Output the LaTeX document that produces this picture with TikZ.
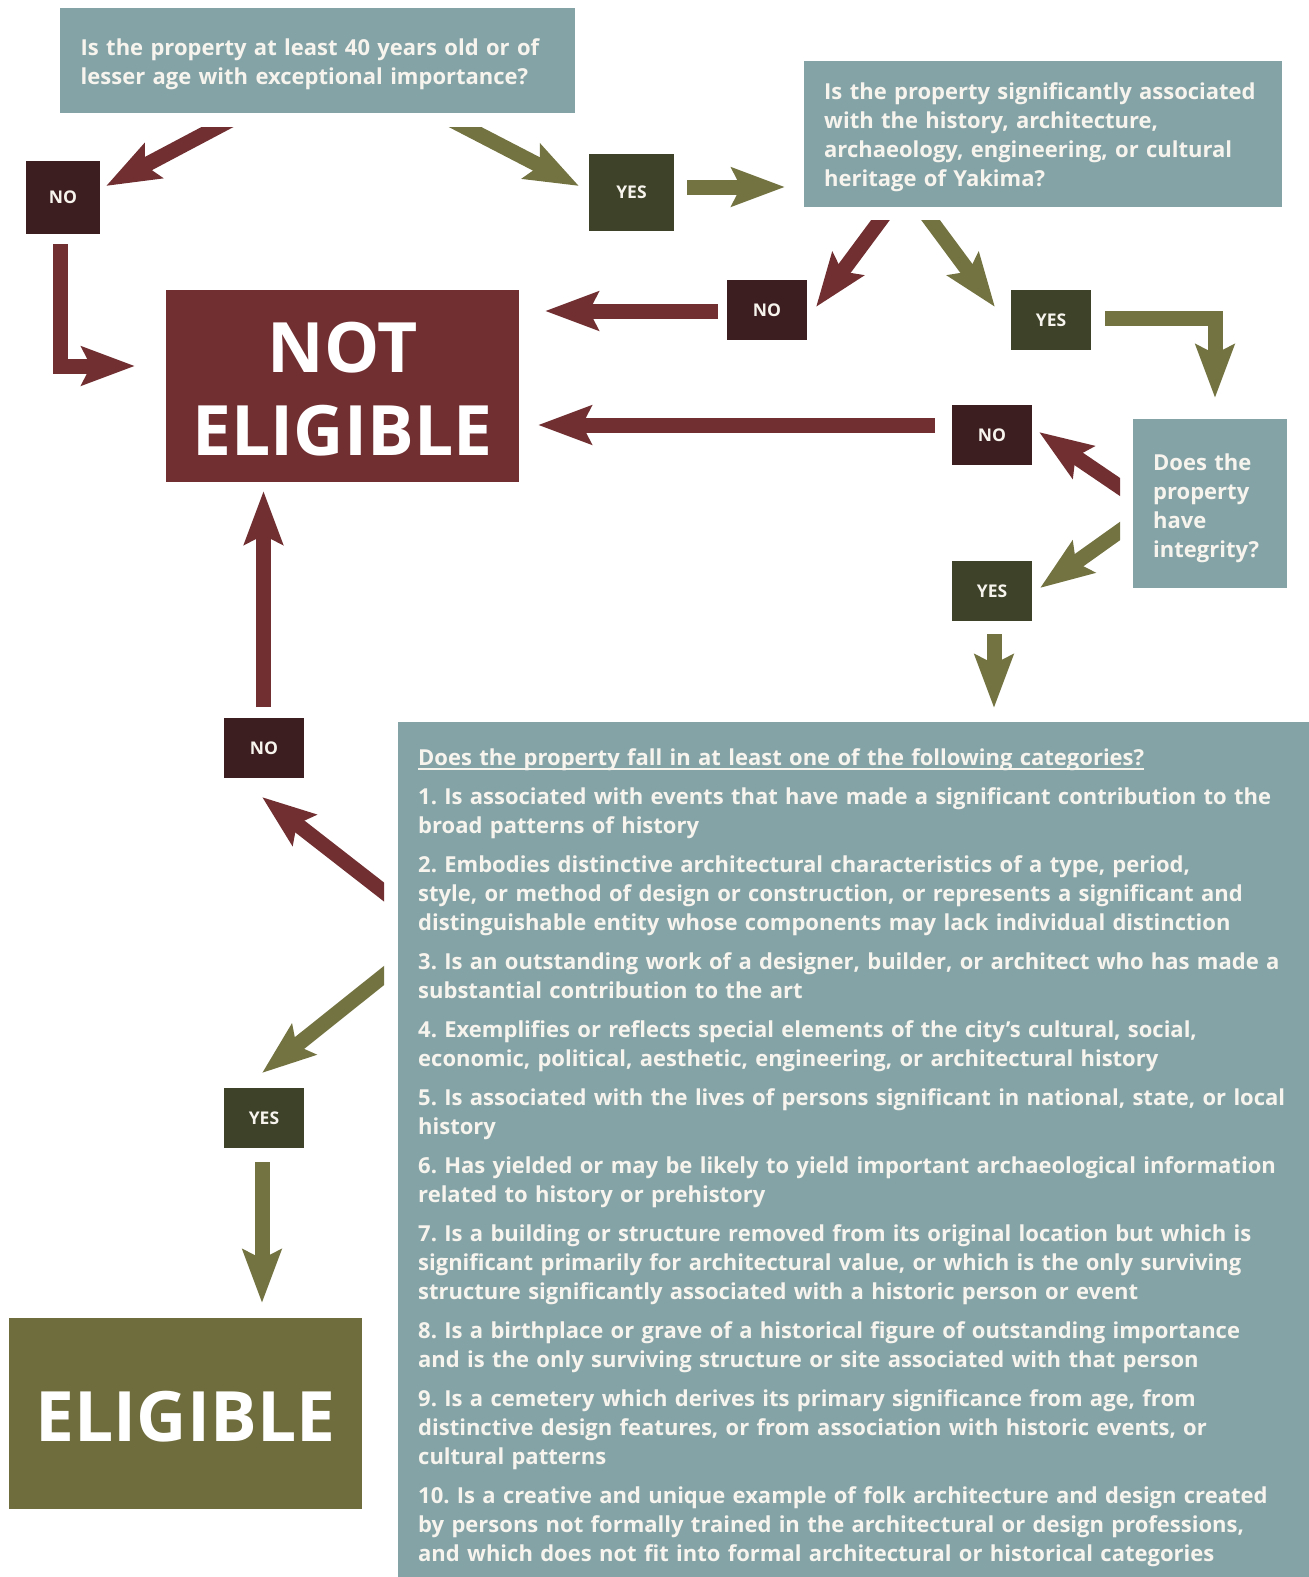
\documentclass[tikz,border=0pt]{standalone}
\usepackage{fontspec}
\setmainfont{Open Sans}
\usetikzlibrary{arrows.meta,calc}
\definecolor{qteal}{HTML}{84A3A7}
\definecolor{nored}{HTML}{722F32}
\definecolor{nodark}{HTML}{3D1E20}
\definecolor{yesolive}{HTML}{737341}
\definecolor{yesdark}{HTML}{3D4229}
\definecolor{bigolive}{HTML}{6F6D3D}
\definecolor{txtwhite}{HTML}{F7F4EE}
\newcommand\catuline[1]{\setbox0\hbox{#1}\rlap{\rule[-4.5pt]{\wd0}{1.8pt}}\box0}
\frenchspacing
\begin{document}
\begin{tikzpicture}[x=1pt,y=-1pt,line join=miter,
qbox/.style={fill=qteal,inner sep=0pt},
qtext/.style={anchor=base west,text=txtwhite,font=\bfseries\fontsize{22}{29}\selectfont,align=left,inner sep=0pt},
tag/.style={text=txtwhite,font=\bfseries\fontsize{17.5}{20}\selectfont,minimum width=80pt,minimum height=60pt,inner sep=0pt},
nobox/.style={tag,fill=nodark},
yesbox/.style={tag,fill=yesdark},
bigbox/.style={inner sep=0pt,minimum width=353pt},
bigtext/.style={text=white,font=\bfseries\fontsize{69.5}{83}\selectfont,align=center,inner sep=0pt,yshift=-3pt},
arr/.style={line width=15pt,-{Stealth[length=53pt,width=38pt,inset=9pt]}},
noarrow/.style={arr,draw=nored},
yesarrow/.style={arr,draw=yesolive}]
\useasboundingbox (0,0) rectangle (1309,1577);

% question boxes
\node[qbox,minimum width=515pt,minimum height=105pt] (q1) at (317.5,60.5) {};
\node[qtext,text width=480pt] (q1text) at (80.5,55.5)
  {Is the property at least 40 years old or of\\lesser age with exceptional importance?};
\node[qbox,minimum width=478pt,minimum height=146pt] (q2) at (1043,134) {};
\node[qtext,text width=450pt] (q2text) at (824,99.5)
  {Is the property significantly associated\\with the history, architecture,\\archaeology, engineering, or cultural\\heritage of Yakima?};
\node[qbox,minimum width=154pt,minimum height=169pt] (q3) at (1210,503.5) {};
\node[qtext,text width=130pt] (q3text) at (1153,470.5)
  {Does the\\property\\have\\integrity?};
\node[qbox,minimum width=911pt,minimum height=855pt] (cats) at (853.5,1149.5) {};
\node[qtext,text width=885pt] (catlist) at (418,765)
  {\catuline{Does the property fall in at least one of the following categories?}\\[10pt]
  1. Is associated with events that have made a significant contribution to the\\broad patterns of history\\[10pt]
  2. Embodies distinctive architectural characteristics of a type, period,\\style, or method of design or construction, or represents a significant and\\distinguishable entity whose components may lack individual distinction\\[10pt]
  3. Is an outstanding work of a designer, builder, or architect who has made a\\substantial contribution to the art\\[10pt]
  4. Exemplifies or reflects special elements of the city’s cultural, social,\\economic, political, aesthetic, engineering, or architectural history\\[10pt]
  5. Is associated with the lives of persons significant in national, state, or local\\history\\[10pt]
  6. Has yielded or may be likely to yield important archaeological information\\related to history or prehistory\\[10pt]
  7. Is a building or structure removed from its original location but which is\\significant primarily for architectural value, or which is the only surviving\\structure significantly associated with a historic person or event\\[10pt]
  8. Is a birthplace or grave of a historical figure of outstanding importance\\and is the only surviving structure or site associated with that person\\[10pt]
  9. Is a cemetery which derives its primary significance from age, from\\distinctive design features, or from association with historic events, or\\cultural patterns\\[10pt]
  10. Is a creative and unique example of folk architecture and design created\\by persons not formally trained in the architectural or design professions,\\and which does not fit into formal architectural or historical categories};

% outcomes
\node[bigbox,fill=nored,minimum height=192pt] (noteligible) at (342.5,386) {};
\node[bigtext] (netext) at (noteligible) {NOT\\ELIGIBLE};
\node[bigbox,fill=bigolive,minimum height=191pt] (eligible) at (185.5,1413.5) {};
\node[bigtext] (eltext) at (eligible) {ELIGIBLE};

% yes / no tags
\node[nobox,minimum width=74pt,minimum height=73pt] (no1) at (63,197.5) {NO};
\node[yesbox,minimum width=85pt,minimum height=77pt] (yes1) at (631.5,192.5) {YES};
\node[nobox] (no2) at (767,310) {NO};
\node[yesbox] (yes2) at (1051,320) {YES};
\node[nobox] (no3) at (992,435) {NO};
\node[yesbox] (yes3) at (992,591) {YES};
\node[nobox] (no4) at (264,748) {NO};
\node[yesbox] (yes4) at (264,1118) {YES};

% arrow ends
\foreach \n/\x/\y in {q1l/217.5/127, no1in/106/186, no1out/60.5/244, ne1/135/366,
  q1r/465/127, yes1in/579/186, yes1out/687/187, q2in/785/187,
  q2l/880.5/220, no2in/816/307, no2out/718/311, ne2/545/311,
  q2r/930.5/220, yes2in/995/307, yes2out/1105/318, q3in/1215/398,
  q3u/1120/487, no3in/1039/432, no3out/935/425, ne3/538/425,
  q3d/1120/531, yes3in/1040/588, yes3out/994/634, catsin/994/708,
  no4out/263.5/707, ne4/263.5/491, catsu/384/892, no4in/262/797,
  catsd/384/975.5, yes4in/262/1073, yes4out/262/1162, elin/262/1303}
  \coordinate (\n) at (\x,\y);

% connectors, tails cut flush
\begin{scope}
\clip (0,127) rectangle (800,300);
\draw[noarrow] ($(q1l)!-15pt!(no1in)$) -- (no1in);
\draw[yesarrow] ($(q1r)!-15pt!(yes1in)$) -- (yes1in);
\end{scope}
\begin{scope}
\clip (700,220) rectangle (1100,400);
\draw[noarrow] ($(q2l)!-15pt!(no2in)$) -- (no2in);
\draw[yesarrow] ($(q2r)!-15pt!(yes2in)$) -- (yes2in);
\end{scope}
\begin{scope}
\clip (900,380) rectangle (1120,700);
\draw[noarrow] ($(q3u)!-15pt!(no3in)$) -- (no3in);
\draw[yesarrow] ($(q3d)!-15pt!(yes3in)$) -- (yes3in);
\end{scope}
\begin{scope}
\clip (0,700) rectangle (384,1200);
\draw[noarrow] ($(catsu)!-15pt!(no4in)$) -- (no4in);
\draw[yesarrow] ($(catsd)!-15pt!(yes4in)$) -- (yes4in);
\end{scope}
\draw[noarrow] (no1out) |- (ne1);
\draw[yesarrow] (yes1out) -- (q2in);
\draw[noarrow] (no2out) -- (ne2);
\draw[yesarrow] (yes2out) -| (q3in);
\draw[noarrow] (no3out) -- (ne3);
\draw[yesarrow] (yes3out) -- (catsin);
\draw[noarrow] (no4out) -- (ne4);
\draw[yesarrow] (yes4out) -- (elin);
\end{tikzpicture}
\end{document}
